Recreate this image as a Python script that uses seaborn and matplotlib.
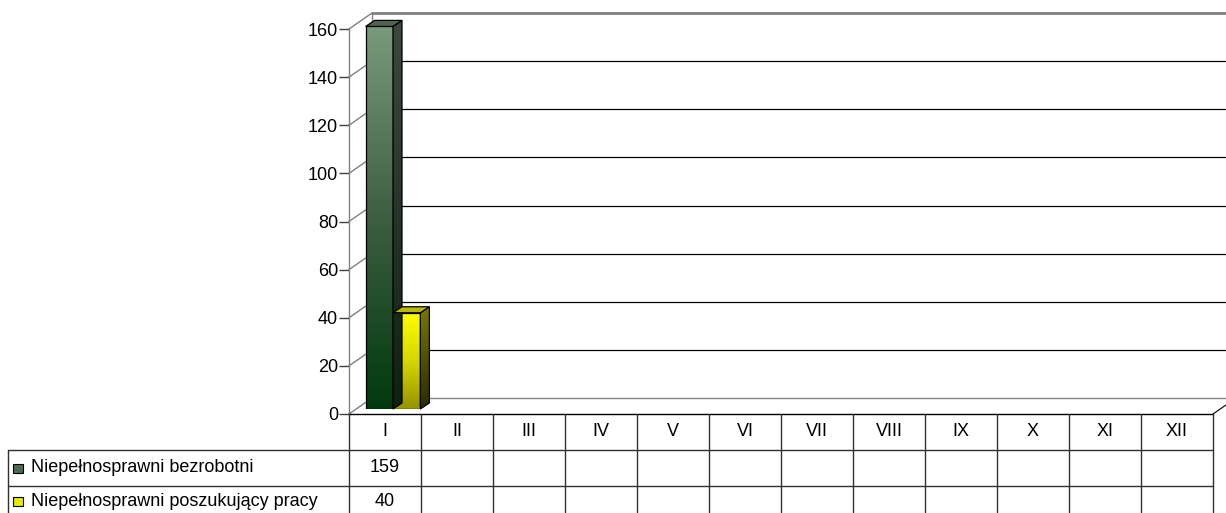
import numpy as np
import pandas as pd
import matplotlib
matplotlib.use("Agg")
import matplotlib.pyplot as plt
import seaborn as sns
from matplotlib.patches import Polygon, Rectangle
from matplotlib.colors import LinearSegmentedColormap

# ---------------- data ----------------
months = ["I", "II", "III", "IV", "V", "VI", "VII", "VIII", "IX", "X", "XI", "XII"]
series_names = ["Niepełnosprawni bezrobotni", "Niepełnosprawni poszukujący pracy"]
bezrobotni = [159, None, None, None, None, None, None, None, None, None, None, None]
poszukujacy = [40, None, None, None, None, None, None, None, None, None, None, None]
yticks = [0, 20, 40, 60, 80, 100, 120, 140, 160]

rows = []
for name, vals in zip(series_names, [bezrobotni, poszukujacy]):
    for m, v in zip(months, vals):
        if v is not None:
            rows.append({"month": m, "series": name, "value": v})
df = pd.DataFrame(rows)

# ---------------- style ----------------
sns.set_theme(style="white")
plt.rcParams["font.family"] = ["Liberation Sans", "DejaVu Sans"]
FS = 13

W, H = 1226, 513
fig = plt.figure(figsize=(W / 100, H / 100), dpi=100)
fig.patch.set_facecolor("white")


def fr(x0, ytop, x1, ybot):
    return [x0 / W, 1 - ybot / H, (x1 - x0) / W, (ybot - ytop) / H]


X0, X1, YB, YT = 349, 1213, 414, 29   # front plane (pixels, from top)
DX, DY = 23, 16                        # wall depth (display, y up)
BDX, BDY = 8, 5                        # bar row offset
SDX, SDY = 9, 6                        # bar depth

back = fig.add_axes([0, 0, 1, 1], zorder=0)
back.set_xlim(0, W); back.set_ylim(0, H); back.axis("off")

ax = fig.add_axes(fr(X0, YT, X1, YB), zorder=1)
ax.set_xlim(-0.5, 11.5); ax.set_ylim(0, 160)
ax.patch.set_alpha(0)
ax.set_xticks([])
ax.set_yticks(yticks)
ax.set_yticklabels([str(t) for t in yticks])
ax.tick_params(axis="y", left=True, length=7, width=1, color="#404040",
               labelsize=FS, pad=1, labelcolor="black")
for s in ["top", "right"]:
    ax.spines[s].set_visible(False)
ax.spines["left"].set_color("#808080"); ax.spines["left"].set_linewidth(1)
ax.spines["bottom"].set_color("black"); ax.spines["bottom"].set_linewidth(1)

bx = fig.add_axes(fr(X0 + BDX, YT - BDY, X1 + BDX, YB - BDY), zorder=2)
bx.patch.set_alpha(0)

front = fig.add_axes([0, 0, 1, 1], zorder=3)
front.set_xlim(0, W); front.set_ylim(0, H); front.axis("off")
front.patch.set_alpha(0)

# ---------------- back wall & floor ----------------
for v in yticks:
    px, py = ax.transData.transform((-0.5, v))
    back.plot([px, px + DX], [py, py + DY], color="#808080", lw=1)
    if v == 160:
        back.plot([px + DX, W + 30], [py + DY, py + DY], color="#808080", lw=2)
    elif v == 0:
        back.plot([px + DX, W + 30], [py + DY, py + DY], color="#808080", lw=1)
    else:
        back.plot([px + DX, W + 30], [py + DY, py + DY], color="black", lw=0.9)
p0 = ax.transData.transform((-0.5, 0))
p1 = ax.transData.transform((-0.5, 160))
back.plot([p0[0] + DX, p1[0] + DX], [p0[1] + DY, p1[1] + DY], color="#808080", lw=1)
q = ax.transData.transform((11.5, 0))
back.plot([q[0], q[0] + DX], [q[1], q[1] + DY], color="black", lw=0.8)

# ---------------- bars ----------------
sns.barplot(data=df, x="month", y="value", hue="series", order=months,
            hue_order=series_names, ax=bx, width=0.76, dodge=True,
            palette=["#3f5f45", "#e0e000"], saturation=1, legend=False,
            edgecolor="black", linewidth=0.9)
bx.set_xlim(-0.5, 11.5); bx.set_ylim(0, 160)
bx.axis("off")

front_cmaps = [
    LinearSegmentedColormap.from_list("g", ["#003a0c", "#3d5e42", "#7a9a7c"]),
    LinearSegmentedColormap.from_list("y", ["#949400", "#d6d600", "#ffff00"]),
]
side_cmaps = [
    LinearSegmentedColormap.from_list("gs", ["#0f2010", "#3b4a3d"]),
    LinearSegmentedColormap.from_list("ys", ["#2a2a00", "#7a7a00"]),
]
top_colors = ["#4f6552", "#b8b800"]
grad = np.linspace(0, 1, 256).reshape(-1, 1)

for cont, fc, sc, tc in zip(bx.containers, front_cmaps, side_cmaps, top_colors):
    for patch in cont:
        h = patch.get_height()
        if not np.isfinite(h) or h <= 0:
            continue
        x0, y0 = patch.get_xy()
        w = patch.get_width()
        patch.set_facecolor("none")
        patch.set_zorder(3)
        im = bx.imshow(grad, extent=[x0, x0 + w, y0, y0 + h], cmap=fc,
                       aspect="auto", origin="lower", zorder=2)
        im.set_clip_path(patch)
        # 3D faces in display pixels
        (a0, b0) = bx.transData.transform((x0, y0))
        (a1, b1) = bx.transData.transform((x0 + w, y0 + h))
        side = Polygon([(a1, b0), (a1 + SDX, b0 + SDY), (a1 + SDX, b1 + SDY), (a1, b1)],
                       closed=True, facecolor="none", edgecolor="black", lw=0.9, zorder=3)
        front.add_patch(side)
        ims = front.imshow(grad, extent=[a1, a1 + SDX, b0, b1 + SDY], cmap=sc,
                           aspect="auto", origin="lower", zorder=2)
        ims.set_clip_path(side)
        top = Polygon([(a0, b1), (a1, b1), (a1 + SDX, b1 + SDY), (a0 + SDX, b1 + SDY)],
                      closed=True, facecolor=tc, edgecolor="black", lw=0.9, zorder=3)
        front.add_patch(top)
bx.set_xlim(-0.5, 11.5); bx.set_ylim(0, 160)
front.set_xlim(0, W); front.set_ylim(0, H)

# ---------------- data table ----------------
def Y(ytop):
    return H - ytop

col_edges = [ax.transData.transform((i - 0.5, 0))[0] for i in range(len(months) + 1)]
r_top, r1, r2, r3 = 414, 450, 486, 522
LEFT = 8
tc_kw = dict(color="#303030", lw=1)
front.plot([LEFT, col_edges[-1]], [Y(r1), Y(r1)], **tc_kw)
front.plot([LEFT, col_edges[-1]], [Y(r2), Y(r2)], **tc_kw)
front.plot([LEFT, LEFT], [Y(r1), Y(r3)], **tc_kw)
for xe in col_edges:
    front.plot([xe, xe], [Y(r_top), Y(r3)], **tc_kw)

for i, m in enumerate(months):
    cx = (col_edges[i] + col_edges[i + 1]) / 2
    front.text(cx, Y(432), m, ha="center", va="center", fontsize=FS, color="black")

row_centers = [468, 501]
legend_colors = ["#4a6a50", "#e8e800"]
for vals, name, rc, lc in zip([bezrobotni, poszukujacy], series_names, row_centers, legend_colors):
    front.add_patch(Rectangle((13, Y(rc) - 4.5), 10, 9, facecolor=lc,
                              edgecolor="black", lw=0.8))
    front.text(31, Y(rc), name, ha="left", va="center", fontsize=FS, color="black")
    for i, v in enumerate(vals):
        if v is not None:
            cx = (col_edges[i] + col_edges[i + 1]) / 2
            front.text(cx, Y(rc), str(v), ha="center", va="center", fontsize=FS,
                       color="black")

fig.savefig("out.png", dpi=100)
